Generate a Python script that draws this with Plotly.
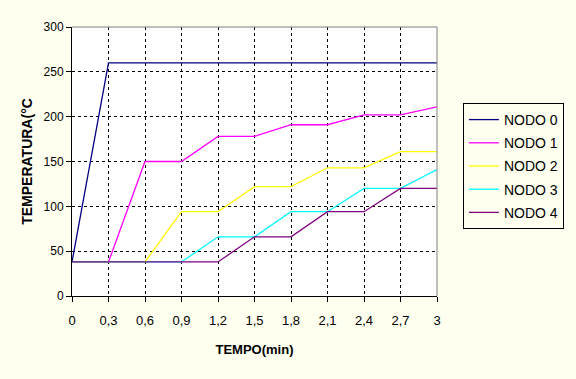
import plotly.graph_objects as go

tempo = [0, 0.3, 0.6, 0.9, 1.2, 1.5, 1.8, 2.1, 2.4, 2.7, 3.0]
tick_labels = ["0", "0,3", "0,6", "0,9", "1,2", "1,5", "1,8", "2,1", "2,4", "2,7", "3"]

nodo0 = [38, 260, 260, 260, 260, 260, 260, 260, 260, 260, 260]
nodo1 = [38, 38, 150, 150, 178, 178, 191, 191, 202, 202, 211]
nodo2 = [38, 38, 38, 94, 94, 122, 122, 143, 143, 161, 161]
nodo3 = [38, 38, 38, 38, 66, 66, 94, 94, 120, 120, 141]
nodo4 = [38, 38, 38, 38, 38, 66, 66, 94, 94, 120, 120]

series = [
    ("NODO 0", nodo0, "#000080"),
    ("NODO 1", nodo1, "#FF00FF"),
    ("NODO 2", nodo2, "#FFFF00"),
    ("NODO 3", nodo3, "#00FFFF"),
    ("NODO 4", nodo4, "#800080"),
]

fig = go.Figure()
for name, vals, col in series:
    fig.add_trace(go.Scatter(x=tempo, y=vals, mode="lines", name=name,
                             legendgroup=name,
                             line=dict(color=col, width=1.3)))

font_family = "Arial, Liberation Sans, sans-serif"

fig.update_layout(
    width=576, height=379,
    margin=dict(l=72, r=137, t=27, b=83),
    paper_bgcolor="#FFFFF0",
    plot_bgcolor="#FFFFFF",
    font=dict(family=font_family, size=12, color="#000000"),
    showlegend=True,
    legend=dict(x=1.071, y=0.7175, xanchor="left", yanchor="top",
                bordercolor="#000000", borderwidth=1, bgcolor="#FFFFF0",
                font=dict(size=14, family=font_family), itemwidth=30,
                tracegroupgap=2),
    xaxis=dict(range=[0, 3], tickvals=tempo, ticktext=tick_labels,
               showgrid=True, gridcolor="#000000", griddash="3px,3px", gridwidth=1,
               showline=True, linecolor="#000000", linewidth=1,
               ticks="outside", ticklen=5, tickcolor="#000000",
               tickfont=dict(size=13), zeroline=False, ticklabelstandoff=7,
               title=dict(text="<b>TEMPO(min)</b>", font=dict(size=13), standoff=18)),
    yaxis=dict(range=[0, 300], tickvals=[0, 50, 100, 150, 200, 250, 300],
               showgrid=True, gridcolor="#000000", griddash="3px,3px", gridwidth=1,
               showline=True, linecolor="#000000", linewidth=1,
               ticks="outside", ticklen=5, tickcolor="#000000",
               tickfont=dict(size=12), zeroline=False,
               title=dict(text="<b>TEMPERATURA(°C</b>", font=dict(size=14), standoff=7)),
)

fig.add_shape(type="line", xref="paper", yref="paper", x0=0, x1=1, y0=1, y1=1,
              line=dict(color="#808080", width=1))
fig.add_shape(type="line", xref="paper", yref="paper", x0=1, x1=1, y0=0, y1=1,
              line=dict(color="#808080", width=1))

fig.write_html("out.html")
